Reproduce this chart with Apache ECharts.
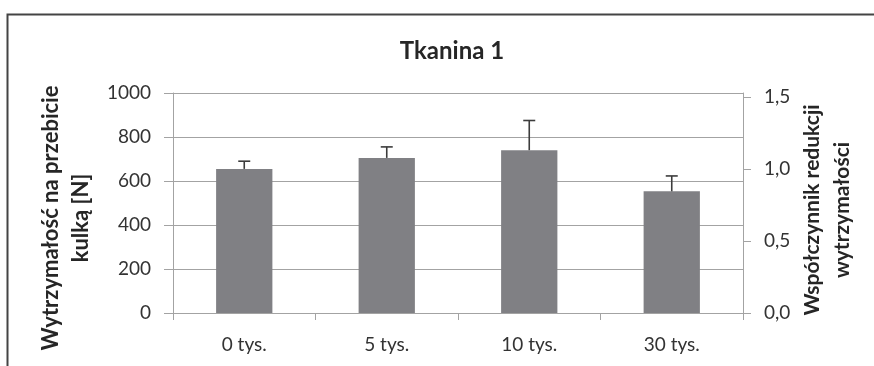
<!DOCTYPE html>
<html>
<head>
<meta charset="utf-8">
<script src="https://cdn.jsdelivr.net/npm/echarts@6/dist/echarts.min.js"></script>
<style>
  html, body { margin: 0; padding: 0; background: #fff; }
  #chart { width: 874px; height: 366px; }
</style>
</head>
<body>
<div id="chart"></div>
<script>
// Puncture strength by number of cycles, with upper error bars
var categories = ['0 tys.', '5 tys.', '10 tys.', '30 tys.'];
var strength = [655, 705, 740, 553];
var strengthErr = [35, 50, 135, 70];
var leftTicks = [0, 200, 400, 600, 800, 1000];
var rightTicks = [0, 0.5, 1.0, 1.5];

var FONT = 'Lato';
var axisGrey = '#a3a3a3';
var textCol = '#333333';
var titleCol = '#262626';

// reduction coefficient axis is scaled so that 1,0 equals the reference (0 tys.) value
var rightMax = leftTicks[leftTicks.length - 1] / strength[0];

var chart = echarts.init(document.getElementById('chart'), null, { renderer: 'canvas' });

chart.setOption({
  animation: false,
  backgroundColor: '#fff',
  title: {
    text: 'Tkanina 1',
    left: 447, top: 34, textAlign: 'center',
    textStyle: { fontFamily: FONT, fontSize: 24, fontWeight: 'bold', color: titleCol }
  },
  grid: { left: 173, right: 131, top: 93, bottom: 53, containLabel: false },
  xAxis: {
    type: 'category',
    data: categories,
    axisLine: { lineStyle: { color: axisGrey, width: 1 } },
    axisTick: { show: true, length: 7, lineStyle: { color: axisGrey } },
    axisLabel: { fontFamily: FONT, fontSize: 19, color: textCol, margin: 22 }
  },
  yAxis: [
    {
      type: 'value',
      min: 0, max: 1000, interval: 200,
      axisLine: { show: true, lineStyle: { color: axisGrey } },
      axisTick: { show: true, length: 9, lineStyle: { color: axisGrey } },
      axisLabel: {
        fontFamily: FONT, fontSize: 19, color: textCol, margin: 22,
        formatter: function (v) { return String(v); }
      },
      splitLine: { show: true, lineStyle: { color: axisGrey, width: 1 } }
    },
    {
      type: 'value',
      position: 'right',
      min: 0, max: rightMax,
      axisLine: { show: true, lineStyle: { color: axisGrey } },
      axisTick: { show: true, length: 8, customValues: rightTicks, lineStyle: { color: axisGrey } },
      axisLabel: {
        fontFamily: FONT, fontSize: 19, color: textCol, margin: 21,
        customValues: rightTicks,
        formatter: function (v) { return v.toFixed(1).replace('.', ','); }
      },
      splitLine: { show: false }
    }
  ],
  series: [
    {
      type: 'bar',
      data: strength,
      barWidth: '39.5%',
      itemStyle: { color: '#808084' },
      z: 2
    },
    {
      type: 'custom',
      data: strength.map(function (v, i) { return [i, v, v + strengthErr[i]]; }),
      z: 3,
      renderItem: function (params, api) {
        var base = api.coord([api.value(0), api.value(1)]);
        var top = api.coord([api.value(0), api.value(2)]);
        var half = 6;
        var st = { stroke: '#3c3c3c', lineWidth: 1.6 };
        return {
          type: 'group',
          children: [
            { type: 'line', shape: { x1: base[0], y1: base[1], x2: top[0], y2: top[1] }, style: st },
            { type: 'line', shape: { x1: top[0] - half, y1: top[1], x2: top[0] + half, y2: top[1] }, style: st }
          ]
        };
      }
    }
  ],
  graphic: [
    // outer chart frame
    {
      type: 'rect', left: 5, top: 12,
      shape: { width: 900, height: 400 },
      style: { fill: 'none', stroke: '#444', lineWidth: 2 },
      silent: true
    },
    // left axis title
    {
      type: 'text', x: 66, y: 218, rotation: Math.PI / 2,
      style: {
        text: 'Wytrzymałość na przebicie\nkulką [N]',
        font: 'bold 22px Lato', fill: titleCol,
        align: 'center', verticalAlign: 'middle', lineHeight: 30
      }
    },
    // right axis title
    {
      type: 'text', x: 827, y: 210, rotation: Math.PI / 2,
      style: {
        text: 'Współczynnik redukcji\nwytrzymałości',
        font: 'bold 21px Lato', fill: titleCol,
        align: 'center', verticalAlign: 'middle', lineHeight: 30
      }
    }
  ]
});
</script>
</body>
</html>
